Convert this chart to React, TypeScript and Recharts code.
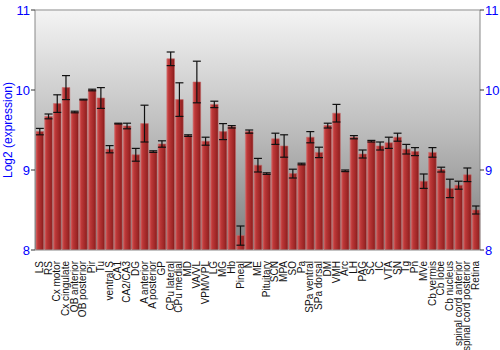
import React from 'react';
import { BarChart, Bar, XAxis, YAxis, CartesianGrid, ErrorBar, ReferenceLine } from 'recharts';

const categories = [
  'LS', 'RS', 'Cx motor', 'Cx cingulate', 'OB anterior', 'OB posterior', 'Pir', 'Tu', 'ventral S', 'CA1',
  'CA2/CA3', 'DG', 'A anterior', 'A posterior', 'GP', 'CPu lateral', 'CPu medial', 'MD', 'VA/VL', 'VPM/VPL',
  'LG', 'MG', 'Hb', 'Pineal', 'N', 'ME', 'Pituitary', 'SCN', 'MPA', 'SO',
  'Pa', 'SPa ventral', 'SPa dorsal', 'DM', 'VMH', 'Arc', 'LH', 'PAG', 'SC', 'IC',
  'VTA', 'SN', 'Tg', 'Pn', 'MVe', 'Cb vermis', 'Cb lobe', 'Cb nucleus', 'spinal cord anterior', 'spinal cord posterior',
  'Retina',
];

const values = [
  9.48, 9.67, 9.83, 10.03, 9.725, 9.88, 10.0, 9.9, 9.26, 9.58,
  9.55, 9.19, 9.58, 9.23, 9.325, 10.39, 9.88, 9.43, 10.1, 9.36,
  9.82, 9.48, 9.54, 8.18, 9.48, 9.06, 8.955, 9.39, 9.3, 8.955,
  9.075, 9.41, 9.22, 9.555, 9.71, 8.99, 9.41, 9.2, 9.36, 9.3,
  9.34, 9.41, 9.26, 9.23, 8.86, 9.22, 9.005, 8.77, 8.81, 8.94,
  8.5,
];

const errors = [
  0.04, 0.03, 0.11, 0.15, 0.01, 0.005, 0.01, 0.13, 0.045, 0.005,
  0.035, 0.08, 0.23, 0.01, 0.04, 0.085, 0.21, 0.01, 0.26, 0.05,
  0.04, 0.1, 0.015, 0.12, 0.02, 0.085, 0.01, 0.07, 0.14, 0.055,
  0.01, 0.07, 0.065, 0.03, 0.11, 0.01, 0.02, 0.05, 0.01, 0.05,
  0.07, 0.05, 0.06, 0.05, 0.09, 0.06, 0.03, 0.115, 0.05, 0.085,
  0.05,
];

const yTicks = [8, 9, 10, 11];

const data = categories.map((name, i) => ({ name, value: values[i], err: errors[i] }));

const FONT = "'Liberation Sans', Arial, sans-serif";

const XTick = (props: any) => {
  const { x, y, payload } = props;
  return (
    <text
      x={0}
      y={0}
      transform={`translate(${x},${y + 3}) rotate(-90)`}
      textAnchor="end"
      dominantBaseline="central"
      fontSize={10}
      fontFamily={FONT}
      fill="#111"
    >
      {payload.value}
    </text>
  );
};

const YLabel = (props: any) => {
  const { viewBox } = props;
  const cy = viewBox.y + viewBox.height / 2;
  return (
    <text
      x={0}
      y={0}
      transform={`translate(8,${cy}) rotate(-90)`}
      textAnchor="middle"
      dominantBaseline="central"
      fontSize={12}
      fontFamily={FONT}
      fill="#0000ff"
    >
      Log2 (expression)
    </text>
  );
};

export default function App() {
  return (
    <div style={{ position: 'absolute', left: 0, top: 0, width: 500, height: 350, background: '#fff' }}>
      <BarChart
        width={500}
        height={350}
        data={data}
        margin={{ top: 10, right: 0, bottom: 0, left: 0 }}
        barSize={7.6}
      >
        <defs>
          <linearGradient id="bgGrad" x1="0" y1="0" x2="0" y2="1">
            <stop offset="0%" stopColor="#f4f4f4" />
            <stop offset="50%" stopColor="#bdbdbd" />
            <stop offset="100%" stopColor="#7c7c7c" />
          </linearGradient>
          <linearGradient id="barGrad" x1="0" y1="0" x2="1" y2="0">
            <stop offset="0%" stopColor="#d85a5a" />
            <stop offset="25%" stopColor="#bc3838" />
            <stop offset="75%" stopColor="#9e2626" />
            <stop offset="100%" stopColor="#821a1a" />
          </linearGradient>
        </defs>
        <CartesianGrid fill="url(#bgGrad)" fillOpacity={1} stroke="#ffffff" strokeWidth={1.5} vertical={false} />
        <XAxis
          dataKey="name"
          interval={0}
          height={100}
          tick={<XTick />}
          tickLine={false}
          axisLine={{ stroke: '#888' }}
        />
        <YAxis
          yAxisId="left"
          orientation="left"
          width={35}
          domain={[8, 11]}
          ticks={yTicks}
          type="number"
          allowDataOverflow
          tick={{ fill: '#0000ff', fontSize: 13, fontFamily: FONT }}
          tickSize={4}
          tickMargin={1}
          tickLine={{ stroke: '#333' }}
          axisLine={{ stroke: '#888' }}
          label={<YLabel />}
        />
        <YAxis
          yAxisId="right"
          orientation="right"
          width={20}
          domain={[8, 11]}
          ticks={yTicks}
          type="number"
          allowDataOverflow
          tick={{ fill: '#0000ff', fontSize: 13, fontFamily: FONT }}
          tickSize={4}
          tickMargin={1}
          tickLine={{ stroke: '#333' }}
          axisLine={{ stroke: '#888' }}
        />
        <ReferenceLine yAxisId="left" y={11} stroke="#888" strokeWidth={1} />
        <Bar
          yAxisId="left"
          dataKey="value"
          fill="url(#barGrad)"
          stroke="#c86a6a"
          strokeWidth={0.6}
          isAnimationActive={false}
        >
          <ErrorBar dataKey="err" width={4} stroke="#111" strokeWidth={1.2} />
        </Bar>
      </BarChart>
    </div>
  );
}
